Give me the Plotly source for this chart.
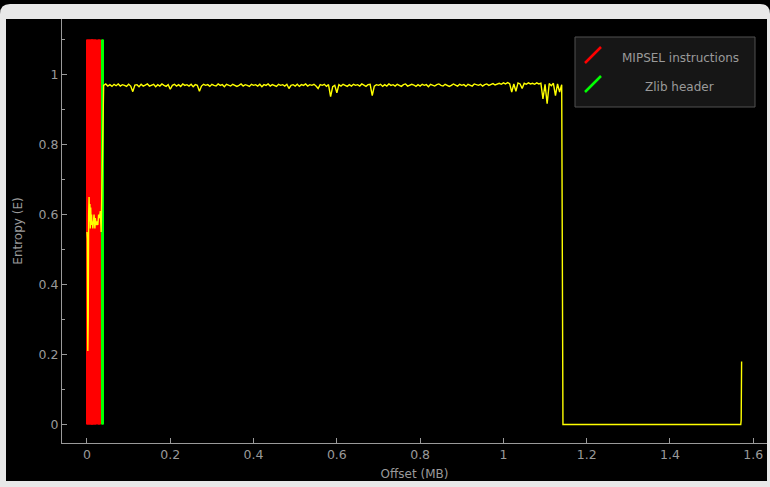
import plotly.graph_objects as go

# ---------------- data ----------------
# low-entropy start of the file (offset in MB, entropy)
lo_offsets = [0.000, 0.001, 0.002, 0.003, 0.004, 0.005, 0.006, 0.007, 0.008, 0.009,
              0.010, 0.011, 0.012, 0.013, 0.014, 0.015, 0.016, 0.017, 0.018, 0.019,
              0.020, 0.022, 0.024, 0.026, 0.028, 0.030, 0.032, 0.034]
lo_entropy = [0.55, 0.53, 0.21, 0.31, 0.60, 0.65, 0.58, 0.63, 0.56, 0.62,
              0.57, 0.60, 0.57, 0.58, 0.56, 0.59, 0.57, 0.60, 0.58, 0.56,
              0.59, 0.57, 0.58, 0.57, 0.60, 0.59, 0.61, 0.55]

# compressed body, one value per 0.005 MB block starting at 0.040 MB
HI_START = 0.040
HI_BLOCK = 0.005
hi_entropy = [
    0.969, 0.973, 0.967, 0.971, 0.966, 0.972, 0.968, 0.973, 0.967, 0.971,
    0.969, 0.966, 0.972, 0.967, 0.951, 0.970, 0.971, 0.965, 0.972, 0.967,
    0.970, 0.973, 0.967, 0.969, 0.972, 0.965, 0.971, 0.967, 0.973, 0.969,
    0.966, 0.971, 0.958, 0.969, 0.972, 0.967, 0.971, 0.966, 0.973, 0.969,
    0.971, 0.967, 0.972, 0.965, 0.971, 0.969, 0.952, 0.967, 0.972, 0.969,
    0.971, 0.966, 0.972, 0.969, 0.967, 0.973, 0.969, 0.971, 0.965, 0.972,
    0.969, 0.967, 0.972, 0.970, 0.966, 0.969, 0.973, 0.967, 0.971, 0.969,
    0.966, 0.972, 0.969, 0.971, 0.967, 0.972, 0.965, 0.971, 0.969, 0.973,
    0.967, 0.971, 0.969, 0.966, 0.972, 0.969, 0.971, 0.967, 0.972, 0.960,
    0.969, 0.971, 0.967, 0.972, 0.966, 0.971, 0.969, 0.973, 0.967, 0.971,
    0.969, 0.972, 0.967, 0.960, 0.971, 0.969, 0.972, 0.966, 0.971, 0.937,
    0.965, 0.969, 0.948, 0.971, 0.967, 0.972, 0.969, 0.966, 0.971, 0.967,
    0.972, 0.969, 0.971, 0.967, 0.973, 0.969, 0.966, 0.971, 0.972, 0.940,
    0.967, 0.971, 0.969, 0.972, 0.966, 0.971, 0.967, 0.973, 0.969, 0.971,
    0.967, 0.972, 0.969, 0.966, 0.971, 0.973, 0.967, 0.969, 0.972, 0.970,
    0.966, 0.971, 0.967, 0.972, 0.969, 0.971, 0.965, 0.972, 0.969, 0.967,
    0.971, 0.973, 0.969, 0.967, 0.972, 0.970, 0.966, 0.969, 0.973, 0.970,
    0.967, 0.972, 0.969, 0.971, 0.966, 0.972, 0.969, 0.967, 0.973, 0.970,
    0.969, 0.972, 0.967, 0.971, 0.973, 0.969, 0.972, 0.974, 0.970, 0.973,
    0.975, 0.972, 0.976, 0.973, 0.977, 0.974, 0.950, 0.973, 0.952, 0.976,
    0.973, 0.960, 0.975, 0.972, 0.976, 0.973, 0.975, 0.972, 0.976, 0.973,
    0.975, 0.930, 0.972, 0.917, 0.974, 0.968, 0.975, 0.940, 0.973, 0.950,
    0.971,
]

# padding / tail of the file
tail_offsets = [1.143, 1.570, 1.571, 1.572]
tail_entropy = [0.0, 0.0, 0.012, 0.18]

# signature hits (offset in MB)
mipsel_offsets = [0.000, 0.002, 0.004, 0.006, 0.008, 0.010, 0.012, 0.014,
                  0.016, 0.018, 0.020, 0.0255, 0.028, 0.0305]
zlib_offsets = [0.0342, 0.0370]
SIG_HEIGHT = 1.1

legend_labels = ["MIPSEL instructions", "Zlib header"]
x_ticks = [0, 0.2, 0.4, 0.6, 0.8, 1, 1.2, 1.4, 1.6]
y_ticks = [0, 0.2, 0.4, 0.6, 0.8, 1]

# ---------------- build ----------------
hi_offsets = [round(HI_START + HI_BLOCK * i, 4) for i in range(len(hi_entropy))]
all_x = lo_offsets + hi_offsets + tail_offsets
all_y = lo_entropy + hi_entropy + tail_entropy

RED = "#ff0000"
GREEN = "#00ff00"
YELLOW = "#ffff00"
GREY = "#9a9a9a"
FONT = "DejaVu Sans"

fig = go.Figure()
fig.add_trace(go.Bar(x=mipsel_offsets, y=[SIG_HEIGHT] * len(mipsel_offsets),
                     width=0.0025, offset=0, marker=dict(color=RED, line=dict(width=0)),
                     showlegend=False, hoverinfo="skip"))
fig.add_trace(go.Scatter(x=all_x, y=all_y, mode="lines",
                         line=dict(color=YELLOW, width=1.4), showlegend=False))
fig.add_trace(go.Bar(x=zlib_offsets, y=[SIG_HEIGHT] * len(zlib_offsets),
                     width=0.0028, offset=0, marker=dict(color=GREEN, line=dict(width=0)),
                     showlegend=False, hoverinfo="skip"))

W, H = 770, 487
L, R, T, B = 62, 3, 19, 44
PW, PH = W - L - R, H - T - B


def px(x):
    return (x - L) / PW


def py(y):
    return (H - B - y) / PH


shapes = []
# window frame (light grey with rounded top corners)
r = 10
frame = (f"M {px(0)},{py(487)} L {px(0)},{py(4 + r)} Q {px(0)},{py(4)} {px(r)},{py(4)} "
         f"L {px(770 - r)},{py(4)} Q {px(770)},{py(4)} {px(770)},{py(4 + r)} "
         f"L {px(770)},{py(487)} Z")
shapes.append(dict(type="path", path=frame, xref="paper", yref="paper",
                   fillcolor="#e8e8e8", line=dict(width=0), layer="below"))
shapes.append(dict(type="rect", xref="paper", yref="paper",
                   x0=px(6), x1=px(767), y0=py(481), y1=py(19),
                   fillcolor="#000000", line=dict(width=0), layer="below"))
# legend box
shapes.append(dict(type="rect", xref="paper", yref="paper",
                   x0=px(575), x1=px(755), y0=py(107), y1=py(37),
                   fillcolor="#161616", line=dict(color="#505050", width=1), layer="above"))
shapes.append(dict(type="line", xref="paper", yref="paper",
                   x0=px(585), y0=py(63), x1=px(601), y1=py(47),
                   line=dict(color=RED, width=2.5), layer="above"))
shapes.append(dict(type="line", xref="paper", yref="paper",
                   x0=px(585), y0=py(92), x1=px(601), y1=py(76),
                   line=dict(color=GREEN, width=2.5), layer="above"))

annotations = [
    dict(text=legend_labels[0], xref="paper", yref="paper", x=px(680), y=py(57.5),
         xanchor="center", yanchor="middle", showarrow=False,
         font=dict(family=FONT, size=12, color=GREY)),
    dict(text=legend_labels[1], xref="paper", yref="paper", x=px(679), y=py(86.5),
         xanchor="center", yanchor="middle", showarrow=False,
         font=dict(family=FONT, size=12, color=GREY)),
]

axis_common = dict(showline=True, linecolor=GREY, linewidth=1, ticks="inside",
                   ticklen=5, tickcolor=GREY, showgrid=False, zeroline=False,
                   tickfont=dict(family=FONT, size=12.5, color=GREY))

fig.update_layout(
    width=W, height=H,
    margin=dict(l=L, r=R, t=T, b=B, pad=0),
    paper_bgcolor="#000000", plot_bgcolor="#000000",
    barmode="overlay",
    shapes=shapes, annotations=annotations,
    xaxis=dict(range=[-0.06, 1.633], tickvals=x_ticks,
               ticktext=[f"{v:g}" for v in x_ticks],
               title=dict(text="Offset (MB)", standoff=8,
                          font=dict(family=FONT, size=12, color=GREY)),
               **axis_common),
    yaxis=dict(range=[-0.0529, 1.1586], tickvals=y_ticks,
               ticktext=[f"{v:g}" for v in y_ticks],
               minor=dict(tickvals=[0.1, 0.3, 0.5, 0.7, 0.9, 1.1], ticks="inside",
                          ticklen=3, tickcolor=GREY),
               title=dict(text="Entropy (E)", standoff=13,
                          font=dict(family=FONT, size=12, color=GREY)),
               **axis_common),
)

fig.write_html("out.html",
               config={"displayModeBar": False},
               post_script="document.body.style.margin='0';document.body.style.overflow='hidden';")
